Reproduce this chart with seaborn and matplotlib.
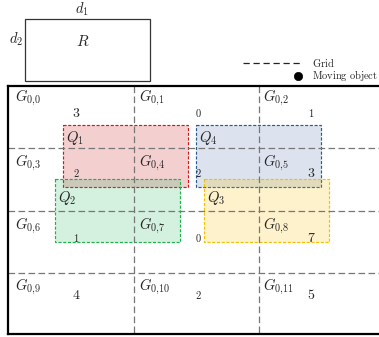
import matplotlib
matplotlib.use("Agg")
import matplotlib.pyplot as plt
from matplotlib.patches import Rectangle
import seaborn as sns

# ---------------- data ----------------
n_cols = 3
n_rows = 4
cell_ids = list(range(12))
object_counts = [3, 0, 1, 2, 2, 3, 1, 0, 7, 4, 2, 5]
count_is_large = [True, False, False, False, False, True, False, False, True, True, False, True]
query_names = ["Q_1", "Q_2", "Q_3", "Q_4"]
query_u = [0.436, 0.372, 1.561, 1.497]   # top-left corner, grid units
query_v = [0.617, 1.495, 1.495, 0.617]
query_w = 1.0
query_h = 1.0
legend_labels = ["Grid", "Moving object"]

# ---------------- style / layout ----------------
query_edge = ["#d01818", "#1db34a", "#f2c200", "#2a5a8e"]
query_fill = [(0.80, 0.06, 0.08, 0.2), (0.16, 0.71, 0.39, 0.2),
              (0.96, 0.75, 0.0, 0.2), (0.33, 0.45, 0.67, 0.2)]
draw_order = [0, 3, 1, 2]
label_dv = [0.28, 0.364, 0.364, 0.28]
count_col_u = [0.545, 1.512, 2.415]
count_row_v = [0.425, 1.39, 2.435, 3.345]
g_col_du = [0.053, 0.045, 0.034]
g_row_dv = [0.25, 0.29, 0.295, 0.27]

sns.set_style("white")
plt.rcParams["mathtext.fontset"] = "cm"
plt.rcParams["font.family"] = ["DejaVu Serif"]

fig = plt.figure(figsize=(3.79, 3.37), dpi=100)
ax = fig.add_axes([0, 0, 1, 1])
ax.set_xlim(-0.0662, 2.956)
ax.set_ylim(4.022, -1.378)
ax.axis("off")

# Query rectangles
for i in draw_order:
    ax.add_patch(Rectangle((query_u[i], query_v[i]), query_w, query_h,
                           facecolor=query_fill[i], edgecolor=query_edge[i],
                           lw=0.85, linestyle=(0, (2.6, 1.4)), zorder=2))
    ax.text(query_u[i] + 0.025, query_v[i] + label_dv[i], "$%s$" % query_names[i],
            fontsize=10.5, ha="left", va="baseline", zorder=5)

# Grid lines
gdash = (0, (5.3, 2.7))
for c in range(1, n_cols):
    ax.plot([c, c], [0, n_rows], color="#777777", lw=0.9, linestyle=gdash, zorder=3)
for r in range(1, n_rows):
    ax.plot([0, 3.2], [r, r], color="#777777", lw=0.9, linestyle=gdash, zorder=3)

# Border
ax.plot([0, 0], [0, 3.98], color="black", lw=1.6, zorder=4, solid_capstyle="projecting")
ax.plot([0, 3.2], [0, 0], color="black", lw=1.6, zorder=4, solid_capstyle="projecting")
ax.plot([0, 3.2], [3.98, 3.98], color="black", lw=1.6, zorder=4, solid_capstyle="projecting")

# Cell labels and counts
for k in cell_ids:
    r, c = divmod(k, n_cols)
    ax.text(c + g_col_du[c], r + g_row_dv[r], r"$G_{0{,}%d}$" % k,
            fontsize=10.5, ha="left", va="baseline", zorder=5)
    ax.text(count_col_u[c], count_row_v[r], r"$%d$" % object_counts[k],
            fontsize=10 if count_is_large[k] else 7.5, ha="center", va="center", zorder=5)

# Range box R
ax.add_patch(Rectangle((0.133, -1.069), 1.0, 0.99, facecolor="white",
                       edgecolor="#333333", lw=0.9, zorder=2))
ax.text(0.588, -1.234, r"$d_1$", fontsize=10.5, ha="center", va="center")
ax.text(0.065, -0.753, r"$d_2$", fontsize=10.5, ha="center", va="center")
ax.text(0.596, -0.72, r"$R$", fontsize=11, ha="center", va="center")

# Legend
ax.plot([1.872, 2.35], [-0.364, -0.364], color="#222222", lw=0.9,
        linestyle=(0, (5.0, 3.0)))
ax.text(2.42, -0.364, r"$\mathrm{%s}$" % legend_labels[0], fontsize=7.5,
        ha="left", va="center")
sns.scatterplot(x=[2.308], y=[-0.165], color="black", s=36, ax=ax, zorder=6,
                edgecolor="black", legend=False)
ax.text(2.42, -0.165, r"$\mathrm{Moving\ object}$", fontsize=7.5,
        ha="left", va="center")
ax.set_xlim(-0.0662, 2.956)
ax.set_ylim(4.022, -1.378)
ax.axis("off")

fig.savefig("out.png", dpi=100)
